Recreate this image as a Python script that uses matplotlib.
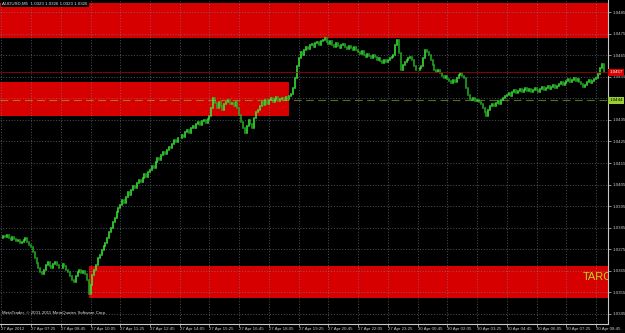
import numpy as np
import matplotlib.pyplot as plt

plt.rcParams['font.family'] = ['Liberation Sans', 'DejaVu Sans']

header_txt = "AUDUSD,M5  1.0323 1.0326 1.0323 1.0326"
copyright_txt = "MetaTrader, \u00a9 2001-2011 MetaQuotes Software Corp."

# M5 closes, one row = 16 bars (80 min), first bar 27 Apr 06:05
closes = [
    1.03803, 1.03812, 1.03807, 1.03817, 1.03803, 1.03793, 1.03807, 1.03798, 1.03789, 1.03793, 1.03780, 1.03784, 1.03793, 1.03803, 1.03784, 1.03770,
    1.03761, 1.03738, 1.03710, 1.03687, 1.03663, 1.03645, 1.03636, 1.03654, 1.03677, 1.03691, 1.03673, 1.03663, 1.03682, 1.03691, 1.03677, 1.03663,
    1.03663, 1.03682, 1.03673, 1.03654, 1.03645, 1.03626, 1.03608, 1.03599, 1.03626, 1.03645, 1.03654, 1.03640, 1.03650, 1.03636, 1.03608, 1.03543,
    1.03585, 1.03631, 1.03654, 1.03677, 1.03710, 1.03724, 1.03747, 1.03766, 1.03780, 1.03803, 1.03830, 1.03849, 1.03877, 1.03895, 1.03923, 1.03942,
    1.03956, 1.03978, 1.03965, 1.03993, 1.04016, 1.04002, 1.04025, 1.04044, 1.04034, 1.04058, 1.04071, 1.04062, 1.04081, 1.04099, 1.04085, 1.04109,
    1.04118, 1.04136, 1.04127, 1.04155, 1.04173, 1.04164, 1.04187, 1.04201, 1.04192, 1.04211, 1.04225, 1.04220, 1.04238, 1.04257, 1.04248, 1.04266,
    1.04266, 1.04280, 1.04271, 1.04294, 1.04303, 1.04289, 1.04313, 1.04322, 1.04313, 1.04331, 1.04340, 1.04327, 1.04345, 1.04350, 1.04336, 1.04354,
    1.04368, 1.04405, 1.04452, 1.04429, 1.04405, 1.04433, 1.04415, 1.04396, 1.04424, 1.04433, 1.04442, 1.04424, 1.04429, 1.04415, 1.04433, 1.04405,
    1.04373, 1.04340, 1.04313, 1.04289, 1.04322, 1.04350, 1.04331, 1.04313, 1.04359, 1.04387, 1.04396, 1.04415, 1.04433, 1.04419, 1.04442, 1.04424,
    1.04442, 1.04452, 1.04433, 1.04447, 1.04456, 1.04438, 1.04447, 1.04452, 1.04442, 1.04456, 1.04447, 1.04461, 1.04470, 1.04498, 1.04544, 1.04600,
    1.04637, 1.04665, 1.04651, 1.04674, 1.04688, 1.04679, 1.04697, 1.04702, 1.04688, 1.04707, 1.04711, 1.04697, 1.04716, 1.04721, 1.04730, 1.04711,
    1.04702, 1.04716, 1.04697, 1.04688, 1.04707, 1.04693, 1.04683, 1.04697, 1.04702, 1.04688, 1.04679, 1.04693, 1.04683, 1.04674, 1.04688, 1.04674,
    1.04665, 1.04656, 1.04670, 1.04651, 1.04642, 1.04656, 1.04646, 1.04637, 1.04651, 1.04642, 1.04628, 1.04637, 1.04623, 1.04614, 1.04628, 1.04619,
    1.04628, 1.04637, 1.04642, 1.04651, 1.04697, 1.04721, 1.04660, 1.04581, 1.04605, 1.04619, 1.04628, 1.04637, 1.04642, 1.04628, 1.04600, 1.04581,
    1.04581, 1.04591, 1.04600, 1.04637, 1.04674, 1.04665, 1.04651, 1.04628, 1.04605, 1.04581, 1.04572, 1.04581, 1.04568, 1.04554, 1.04544, 1.04554,
    1.04540, 1.04531, 1.04521, 1.04535, 1.04526, 1.04544, 1.04558, 1.04568, 1.04554, 1.04544, 1.04498, 1.04466, 1.04447, 1.04442, 1.04452, 1.04438,
    1.04442, 1.04433, 1.04424, 1.04405, 1.04387, 1.04368, 1.04396, 1.04415, 1.04424, 1.04415, 1.04429, 1.04438, 1.04424, 1.04442, 1.04452, 1.04461,
    1.04466, 1.04475, 1.04461, 1.04479, 1.04489, 1.04475, 1.04484, 1.04493, 1.04479, 1.04489, 1.04498, 1.04484, 1.04493, 1.04479, 1.04489, 1.04498,
    1.04489, 1.04479, 1.04493, 1.04503, 1.04489, 1.04498, 1.04507, 1.04493, 1.04503, 1.04512, 1.04498, 1.04507, 1.04517, 1.04526, 1.04512, 1.04521,
    1.04531, 1.04540, 1.04526, 1.04535, 1.04544, 1.04531, 1.04540, 1.04526, 1.04517, 1.04503, 1.04512, 1.04526, 1.04535, 1.04521, 1.04531, 1.04540,
    1.04544, 1.04563, 1.04591, 1.04609, 1.04572,
]

time_labels = ["27 Apr 2012", "27 Apr 07:25", "27 Apr 08:45", "27 Apr 10:05", "27 Apr 11:25",
               "27 Apr 12:45", "27 Apr 14:05", "27 Apr 15:25", "27 Apr 16:45", "27 Apr 18:05",
               "27 Apr 19:25", "27 Apr 20:45", "27 Apr 22:05", "27 Apr 23:25", "30 Apr 00:45",
               "30 Apr 02:05", "30 Apr 03:25", "30 Apr 04:45", "30 Apr 06:05", "30 Apr 07:25",
               "30 Apr 08:45"]
bars_per_label = 16

price_ticks = [1.0345, 1.0355, 1.0365, 1.0375, 1.0385, 1.0395, 1.0405, 1.0415,
               1.0425, 1.0435, 1.0445, 1.0455, 1.0465, 1.0475, 1.0485]

# supply / demand rectangles: start bar, end bar, low, high
zone_start = [-5, -5, 47]
zone_end = [400, 155, 400]
zone_low = [1.04730, 1.04368, 1.03524]
zone_high = [1.04892, 1.04526, 1.03673]

ask_price = 1.0457
level_price = 1.0444
target_bar = 312.9
target_price = 1.03621

RED = '#d60000'
FS = 3.2

fig = plt.figure(figsize=(6.25, 3.33), dpi=100, facecolor='black')
ax = fig.add_axes([0.0, 0.027, 0.9728, 0.973])
ax.set_facecolor('black')

closes = np.array(closes)
n = len(closes)
idx = np.arange(n)
opens = np.concatenate([[closes[0]], closes[:-1]])
lo = np.minimum(opens, closes)
hi = np.maximum(opens, closes)
up = closes >= opens

for s, e, l, h in zip(zone_start, zone_end, zone_low, zone_high):
    ax.fill_between([s, e], l, h, color=RED, lw=0, zorder=1)

ax.vlines(idx[up], lo[up], hi[up], color='#3cf03c', lw=1.1, zorder=4, capstyle='projecting')
ax.vlines(idx[~up], lo[~up], hi[~up], color='#22b422', lw=1.1, zorder=4, capstyle='projecting')

ax.axhline(level_price, color='#9acd32', alpha=0.55, lw=0.8, ls=(0, (7, 4)), zorder=5)
ax.axhline(ask_price, color='#a00000', lw=0.6, zorder=5)

ax.text(target_bar, target_price, "TARGET", color='#b8d62a', fontsize=8,
        va='center', ha='left', zorder=6, clip_on=True)

ax.set_xlim(-0.7, 326.4)
ax.set_ylim(1.034035, 1.04906)

ax.set_xticks(np.arange(len(time_labels)) * bars_per_label)
ax.set_xticklabels(time_labels)
for t in ax.get_xticklabels():
    t.set_ha('left')
ax.yaxis.tick_right()
ax.set_yticks(price_ticks)
# the 1.0445 label sits under the level tag, MT4 hides it
ax.set_yticklabels(["" if abs(p - level_price) < 0.0003 else "%.4f" % p for p in price_ticks])
ax.tick_params(colors='#c8c8c8', labelsize=FS, length=2, width=0.5, pad=1)
ax.tick_params(axis='x', pad=0.5)

ax.set_axisbelow(False)
ax.grid(True, color='#778899', lw=0.5, ls=(0, (1.5, 2.5)), alpha=0.8)
for gl in ax.get_xgridlines() + ax.get_ygridlines():
    gl.set_zorder(2)

for side in ['left', 'top']:
    ax.spines[side].set_visible(False)
for side in ['right', 'bottom']:
    ax.spines[side].set_color('#c8c8c8')
    ax.spines[side].set_linewidth(0.8)

# price tags on the right scale
ax.annotate("%.4f" % ask_price, xy=(1.0, ask_price), xycoords=('axes fraction', 'data'),
            xytext=(1, 0), textcoords='offset points', fontsize=FS, color='white',
            va='center', ha='left', annotation_clip=False, zorder=10,
            bbox=dict(boxstyle='square,pad=0.3', fc=RED, ec='none'))
ax.annotate("%.4f" % level_price, xy=(1.0, level_price), xycoords=('axes fraction', 'data'),
            xytext=(1, 0), textcoords='offset points', fontsize=FS, color='black',
            va='center', ha='left', annotation_clip=False, zorder=10,
            bbox=dict(boxstyle='square,pad=0.3', fc='#9acd32', ec='none'))

ax.text(0.004, 0.994, header_txt, transform=ax.transAxes, fontsize=FS, color='#e0e0e0',
        va='top', ha='left', zorder=10,
        bbox=dict(boxstyle='square,pad=0.25', fc='black', ec='none'))
ax.text(0.004, 0.034, copyright_txt, transform=ax.transAxes, fontsize=FS, color='#e0e0e0',
        va='center', ha='left', zorder=10)

fig.savefig('out.png', dpi=100, facecolor='black')
